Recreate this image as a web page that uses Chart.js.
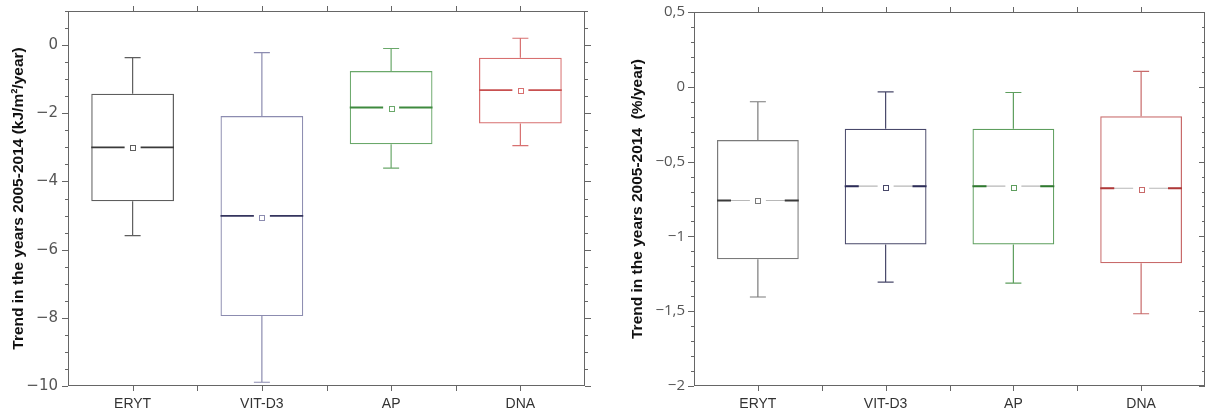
<!DOCTYPE html>
<html>
<head>
<meta charset="utf-8">
<script src="https://cdn.jsdelivr.net/npm/chart.js@4"></script>
<style>
    body { margin: 0; background: #fff; overflow: hidden; }
    .panel { position: absolute; top: 0; height: 414px; }
    #energyPanel { left: 0; width: 600px; }
    #percentPanel { left: 600px; width: 606px; }
</style>
</head>
<body>
<div class="panel" id="energyPanel"><canvas id="energyChart"></canvas></div>
<div class="panel" id="percentPanel"><canvas id="percentChart"></canvas></div>
<script>
// Box plots of trends 2005-2014
const categories = ['ERYT', 'VIT-D3', 'AP', 'DNA'];

// kJ/m²/year
const energyWhiskerLow = [-5.59, -9.89, -3.61, -2.95];
const energyQ1 = [-4.58, -7.95, -2.91, -2.30];
const energyMedian = [-3.00, -5.01, -1.83, -1.32];
const energyMean = [-3.00, -5.05, -1.85, -1.34];
const energyQ3 = [-1.43, -2.08, -0.76, -0.37];
const energyWhiskerHigh = [-0.37, -0.22, -0.10, 0.20];

// %/year
const percentWhiskerLow = [-1.405, -1.306, -1.313, -1.517];
const percentQ1 = [-1.152, -1.054, -1.054, -1.179];
const percentMedian = [-0.760, -0.664, -0.664, -0.678];
const percentMean = [-0.760, -0.670, -0.670, -0.689];
const percentQ3 = [-0.356, -0.280, -0.280, -0.197];
const percentWhiskerHigh = [-0.100, -0.034, -0.038, 0.103];

const energyBoxColors = ['#5e5e5e', '#8c8cb0', '#6aa86a', '#d87070'];
const energyMedianColors = ['#3a3a3a', '#34345e', '#3f8a3f', '#c85050'];
const percentBoxColors = ['#7a7a7a', '#48486a', '#5e9e5e', '#c86a6a'];
const percentMedianColors = ['#3a3a3a', '#2c2c58', '#2f7a2f', '#b03838'];

const AXIS_COLOR = '#666';

function fmtTick(v, comma) {
    let s = comma ? String(Math.round(v * 10) / 10).replace('.', ',') : String(v);
    return s.replace('-', '\u2212');
}

// whiskers, medians and mean markers on top of the floating bars
const boxPartsPlugin = {
    id: 'boxParts',
    afterDatasetsDraw(chart, args, opts) {
        const ctx = chart.ctx;
        const y = chart.scales.y;
        const meta = chart.getDatasetMeta(0);
        meta.data.forEach((el, i) => {
            const x = el.x;
            const half = el.width / 2;
            const boxColor = opts.boxColors[i];
            ctx.save();
            ctx.strokeStyle = boxColor;
            ctx.lineWidth = 1.2;
            // whiskers
            ctx.beginPath();
            ctx.moveTo(x, y.getPixelForValue(opts.q3[i]));
            ctx.lineTo(x, y.getPixelForValue(opts.high[i]));
            ctx.moveTo(x, y.getPixelForValue(opts.q1[i]));
            ctx.lineTo(x, y.getPixelForValue(opts.low[i]));
            ctx.moveTo(x - 8, y.getPixelForValue(opts.high[i]));
            ctx.lineTo(x + 8, y.getPixelForValue(opts.high[i]));
            ctx.moveTo(x - 8, y.getPixelForValue(opts.low[i]));
            ctx.lineTo(x + 8, y.getPixelForValue(opts.low[i]));
            ctx.stroke();
            // median, broken around the mean marker
            const ym = y.getPixelForValue(opts.median[i]);
            const gap = 8;
            ctx.strokeStyle = opts.splitMedian ? opts.innerMedian : opts.medianColors[i];
            ctx.lineWidth = opts.splitMedian ? 1.2 : 1.8;
            ctx.beginPath();
            ctx.moveTo(x - half, ym);
            ctx.lineTo(x - gap, ym);
            ctx.moveTo(x + gap, ym);
            ctx.lineTo(x + half, ym);
            ctx.stroke();
            if (opts.splitMedian) {
                ctx.strokeStyle = opts.medianColors[i];
                ctx.lineWidth = 2;
                ctx.beginPath();
                ctx.moveTo(x - half, ym);
                ctx.lineTo(x - half + 14, ym);
                ctx.moveTo(x + half - 14, ym);
                ctx.lineTo(x + half, ym);
                ctx.stroke();
            }
            // mean
            const yMean = y.getPixelForValue(opts.mean[i]);
            ctx.strokeStyle = boxColor;
            ctx.lineWidth = 1;
            ctx.strokeRect(Math.round(x - 2.5) + 0.5, Math.round(yMean - 2.5) + 0.5, 5, 5);
            ctx.restore();
        });
    }
};

// frame with major/minor ticks on all four sides
const framePlugin = {
    id: 'frame',
    afterDraw(chart, args, opts) {
        const ctx = chart.ctx;
        const a = chart.chartArea;
        const y = chart.scales.y;
        const x = chart.scales.x;
        ctx.save();
        ctx.strokeStyle = AXIS_COLOR;
        ctx.lineWidth = 1;
        ctx.strokeRect(a.left + 0.5, a.top + 0.5, a.right - a.left - 1, a.bottom - a.top - 1);
        ctx.beginPath();
        const n = Math.round((opts.max - opts.min) / opts.minor);
        for (let k = 0; k <= n; k++) {
            const v = opts.min + k * opts.minor;
            const isMajor = Math.abs(v / opts.major - Math.round(v / opts.major)) < 1e-6;
            const py = Math.round(y.getPixelForValue(v)) + 0.5;
            const len = isMajor ? 6 : 3;
            ctx.moveTo(a.left - len, py);
            ctx.lineTo(a.left, py);
            if (opts.rightInward) {
                ctx.moveTo(a.right, py);
                ctx.lineTo(a.right - len, py);
            } else {
                ctx.moveTo(a.right, py);
                ctx.lineTo(a.right + len, py);
            }
        }
        const step = x.getPixelForValue(1) - x.getPixelForValue(0);
        for (let k = 0; k < categories.length; k++) {
            const cx = x.getPixelForValue(k);
            [cx, cx + step / 2].forEach(px => {
                if (px >= a.right - 1) return;
                const p = Math.round(px) + 0.5;
                ctx.moveTo(p, a.top);
                ctx.lineTo(p, a.top - 5);
                ctx.moveTo(p, a.bottom);
                ctx.lineTo(p, a.bottom + 5);
            });
        }
        ctx.stroke();
        ctx.restore();
    }
};

function makePanel(canvasId, p) {
    const ctx = document.getElementById(canvasId).getContext('2d');
    return new Chart(ctx, {
        type: 'bar',
        data: {
            labels: categories,
            datasets: [{
                data: categories.map((c, i) => [p.q1[i], p.q3[i]]),
                backgroundColor: 'rgba(0,0,0,0)',
                borderColor: p.boxColors,
                borderWidth: 1.2,
                borderSkipped: false,
                barPercentage: 0.64,
                categoryPercentage: 1
            }]
        },
        options: {
            responsive: true,
            maintainAspectRatio: false,
            animation: false,
            layout: { padding: { top: p.padTop, right: p.padRight, left: 0, bottom: 0 } },
            plugins: {
                legend: { display: false },
                tooltip: { enabled: false },
                boxParts: {
                    low: p.low, q1: p.q1, median: p.median, mean: p.mean, q3: p.q3, high: p.high,
                    boxColors: p.boxColors, medianColors: p.medianColors,
                    splitMedian: p.splitMedian, innerMedian: '#b8b8b8'
                },
                frame: {
                    min: p.min, max: p.max, major: p.major, minor: p.minor,
                    rightInward: p.rightInward
                }
            },
            scales: {
                x: {
                    grid: { display: false },
                    border: { display: false },
                    ticks: {
                        color: '#333',
                        padding: 2,
                        font: { family: 'Liberation Sans, Arial, sans-serif', size: 14 }
                    },
                    afterFit: s => { s.height = 28; }
                },
                y: {
                    min: p.min,
                    max: p.max,
                    grid: { display: false },
                    border: { display: false },
                    title: {
                        display: true,
                        text: p.title,
                        color: '#111',
                        padding: { top: p.titleLeft, bottom: 0 },
                        font: { family: 'Liberation Sans, Arial, sans-serif', size: 15.5, weight: 'bold' }
                    },
                    ticks: {
                        stepSize: p.major,
                        includeBounds: false,
                        color: '#555',
                        padding: p.tickPad,
                        font: { family: p.tickFont, size: 15 },
                        callback: v => fmtTick(v, p.comma)
                    },
                    afterFit: s => { s.width = p.axisWidth; }
                }
            }
        },
        plugins: [boxPartsPlugin, framePlugin]
    });
}

makePanel('energyChart', {
    low: energyWhiskerLow, q1: energyQ1, median: energyMedian, mean: energyMean,
    q3: energyQ3, high: energyWhiskerHigh,
    boxColors: energyBoxColors, medianColors: energyMedianColors, splitMedian: false,
    min: -10, max: 1, major: 2, minor: 0.5, comma: false,
    title: 'Trend in the years 2005-2014 (kJ/m\u00B2/year)',
    tickFont: 'DejaVu Sans, sans-serif', tickPad: 2, titleLeft: 9,
    axisWidth: 68, padTop: 4, padRight: 15, rightInward: false
});

makePanel('percentChart', {
    low: percentWhiskerLow, q1: percentQ1, median: percentMedian, mean: percentMean,
    q3: percentQ3, high: percentWhiskerHigh,
    boxColors: percentBoxColors, medianColors: percentMedianColors, splitMedian: true,
    min: -2, max: 0.5, major: 0.5, minor: 0.1, comma: true,
    title: 'Trend in the years 2005-2014  (%/year)',
    tickFont: 'Open Sans, sans-serif', tickPad: 1, titleLeft: 28,
    axisWidth: 94, padTop: 12, padRight: 1, rightInward: true
});
</script>
</body>
</html>
